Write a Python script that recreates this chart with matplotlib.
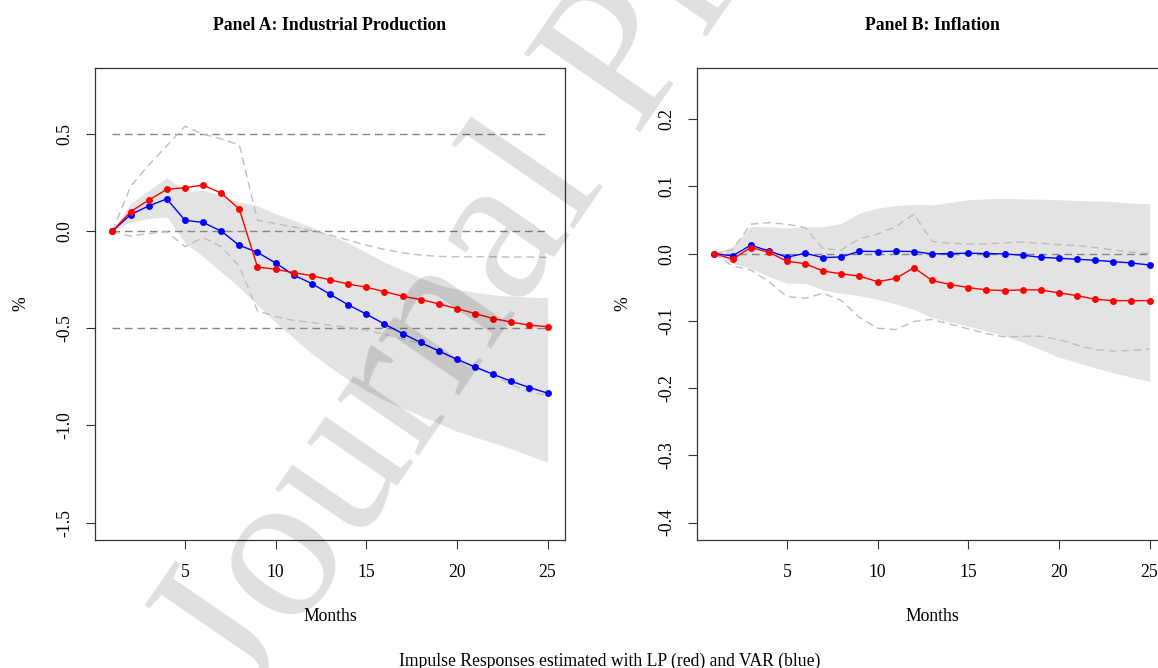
import numpy as np
import matplotlib
matplotlib.use("Agg")
import matplotlib.pyplot as plt

plt.rcParams['font.family'] = ['Liberation Serif', 'DejaVu Serif']

months = list(range(1, 26))
xticks = [5, 10, 15, 20, 25]

# Panel A: Industrial Production
ip_lp = [0.0, 0.10, 0.16, 0.215, 0.224, 0.237, 0.196, 0.113, -0.185, -0.196,
         -0.214, -0.229, -0.251, -0.272, -0.289, -0.311, -0.335, -0.352, -0.374,
         -0.399, -0.424, -0.45, -0.468, -0.484, -0.492]
ip_var = [0.0, 0.085, 0.13, 0.166, 0.056, 0.045, 0.0, -0.073, -0.109, -0.164,
          -0.226, -0.27, -0.325, -0.379, -0.427, -0.478, -0.527, -0.573, -0.617,
          -0.66, -0.699, -0.737, -0.773, -0.805, -0.834]
ip_lp_up = [0.0, 0.23, 0.34, 0.44, 0.54, 0.50, 0.475, 0.444, 0.056, 0.039, 0.022,
            0.003, -0.02, -0.046, -0.072, -0.094, -0.111, -0.123, -0.13, -0.132,
            -0.132, -0.132, -0.133, -0.133, -0.135]
ip_lp_lo = [0.0, -0.026, -0.012, -0.003, -0.08, -0.032, -0.08, -0.18, -0.41, -0.44,
            -0.46, -0.47, -0.485, -0.495, -0.51, -0.53, -0.555, -0.58, -0.615,
            -0.66, -0.70, -0.74, -0.79, -0.83, -0.845]
ip_var_up = [0.0, 0.142, 0.21, 0.275, 0.205, 0.21, 0.185, 0.15, 0.13, 0.09, 0.056,
             0.02, -0.02, -0.06, -0.11, -0.16, -0.2, -0.24, -0.275, -0.30, -0.315,
             -0.328, -0.335, -0.34, -0.342]
ip_var_lo = [0.0, 0.048, 0.065, 0.074, -0.06, -0.13, -0.21, -0.29, -0.38, -0.47,
             -0.55, -0.63, -0.70, -0.765, -0.82, -0.87, -0.91, -0.95, -0.99, -1.03,
             -1.06, -1.09, -1.12, -1.155, -1.19]
ip_hlines = [0.5, 0.0, -0.5]
ip_yticks = [0.5, 0.0, -0.5, -1.0, -1.5]
ip_yticklabels = ["0.5", "0.0", "-0.5", "-1.0", "-1.5"]

# Panel B: Inflation
inf_lp = [0.0, -0.0085, 0.009, 0.002, -0.0114, -0.015, -0.026, -0.030, -0.0337,
          -0.0417, -0.037, -0.021, -0.040, -0.046, -0.0506, -0.054, -0.055, -0.054,
          -0.054, -0.0585, -0.0625, -0.068, -0.070, -0.070, -0.070]
inf_var = [0.0, -0.0035, 0.0124, 0.004, -0.0055, 0.0005, -0.006, -0.005, 0.0035,
           0.003, 0.0035, 0.003, -0.0005, 0.0, 0.0005, 0.0, -0.0005, -0.0025, -0.0055,
           -0.007, -0.0085, -0.010, -0.012, -0.014, -0.017]
inf_lp_up = [0.0, 0.0055, 0.0437, 0.046, 0.0437, 0.0387, 0.0069, 0.0055, 0.022,
             0.029, 0.040, 0.0585, 0.018, 0.0154, 0.0144, 0.0144, 0.016, 0.017,
             0.0154, 0.013, 0.012, 0.009, 0.0055, 0.002, 0.0]
inf_lp_lo = [0.0, -0.0184, -0.0243, -0.0417, -0.064, -0.0665, -0.059, -0.070, -0.095,
             -0.111, -0.113, -0.101, -0.098, -0.105, -0.112, -0.119, -0.124, -0.123,
             -0.123, -0.128, -0.136, -0.143, -0.145, -0.144, -0.142]
inf_var_up = [0.0, 0.0104, 0.040, 0.040, 0.0377, 0.040, 0.040, 0.045, 0.060, 0.0675,
              0.0714, 0.0734, 0.0724, 0.076, 0.080, 0.0814, 0.082, 0.0814, 0.081,
              0.080, 0.079, 0.0784, 0.0774, 0.075, 0.074]
inf_var_lo = [0.0, -0.0144, -0.022, -0.034, -0.044, -0.044, -0.054, -0.059, -0.0625,
              -0.068, -0.075, -0.083, -0.095, -0.102, -0.108, -0.115, -0.122, -0.132,
              -0.143, -0.154, -0.162, -0.170, -0.177, -0.184, -0.190]
inf_hlines = [0.0]
inf_yticks = [0.2, 0.1, 0.0, -0.1, -0.2, -0.3, -0.4]
inf_yticklabels = ["0.2", "0.1", "0.0", "-0.1", "-0.2", "-0.3", "-0.4"]

W, H = 1158, 668
fig = plt.figure(figsize=(W / 100, H / 100), dpi=100)

FS = 12.7
SHADE = '#e3e3e3'
DARK_DASH = '#858585'
LIGHT_DASH = '#bdbdbd'


def panel(rect, title, lp, var, lp_up, lp_lo, var_up, var_lo, hlines,
          yticks, yticklabels, ylim):
    ax = fig.add_axes(rect)
    ax.fill_between(months, var_lo, var_up, color=SHADE, lw=0, zorder=1)
    for h in hlines:
        ax.plot([months[0], months[-1]], [h, h], color=DARK_DASH, lw=1.0,
                dashes=(5.5, 3.5), zorder=2)
    ax.plot(months, lp_up, color=LIGHT_DASH, lw=1.0, dashes=(5.5, 3.5), zorder=2)
    ax.plot(months, lp_lo, color=LIGHT_DASH, lw=1.0, dashes=(5.5, 3.5), zorder=2)
    ax.plot(months, var, color='#0000ff', lw=1.0, marker='o', ms=5,
            markeredgewidth=0, zorder=3)
    ax.plot(months, lp, color='#ff0000', lw=1.0, marker='o', ms=5,
            markeredgewidth=0, zorder=4)
    ax.set_xlim(0.04, 25.96)
    ax.set_ylim(*ylim)
    ax.set_xticks(xticks)
    ax.set_xticklabels([str(t) for t in xticks], fontsize=FS)
    ax.set_yticks(yticks)
    ax.set_yticklabels(yticklabels, fontsize=FS, rotation=90, va='center')
    ax.tick_params(axis='both', direction='out', length=6.5, width=0.8,
                   color='#333333')
    ax.tick_params(axis='x', pad=11)
    ax.tick_params(axis='y', pad=9)
    for s in ax.spines.values():
        s.set_linewidth(0.9)
        s.set_color('#333333')
    ax.text(0.5, 1.091, title, transform=ax.transAxes, ha='center', va='center',
            fontsize=FS, fontweight='bold')
    ax.text(0.5, -0.162, 'Months', transform=ax.transAxes, ha='center',
            va='center', fontsize=FS)
    ax.text(-0.158, 0.5, '%', transform=ax.transAxes, ha='center', va='center',
            rotation=90, fontsize=FS)
    return ax


axA = panel([95 / W, 1 - 540 / H, 470 / W, 472 / H], 'Panel A: Industrial Production',
            ip_lp, ip_var, ip_lp_up, ip_lp_lo, ip_var_up, ip_var_lo, ip_hlines,
            ip_yticks, ip_yticklabels, (-1.59, 0.84))
axB = panel([697 / W, 1 - 540 / H, 470 / W, 472 / H], 'Panel B: Inflation',
            inf_lp, inf_var, inf_lp_up, inf_lp_lo, inf_var_up, inf_var_lo, inf_hlines,
            inf_yticks, inf_yticklabels, (-0.426, 0.276))

fig.text(610 / W, 1 - 661 / H, 'Impulse Responses estimated with LP (red) and VAR (blue)',
         ha='center', va='center', fontsize=FS)

# watermark
fig.text(247 / W, 1 - 705 / H, 'Journal Pre-proof', rotation=55.5,
         rotation_mode='anchor', ha='left', va='baseline', fontsize=155,
         color='black', alpha=0.13, zorder=10)

fig.savefig('out.png', dpi=100)
